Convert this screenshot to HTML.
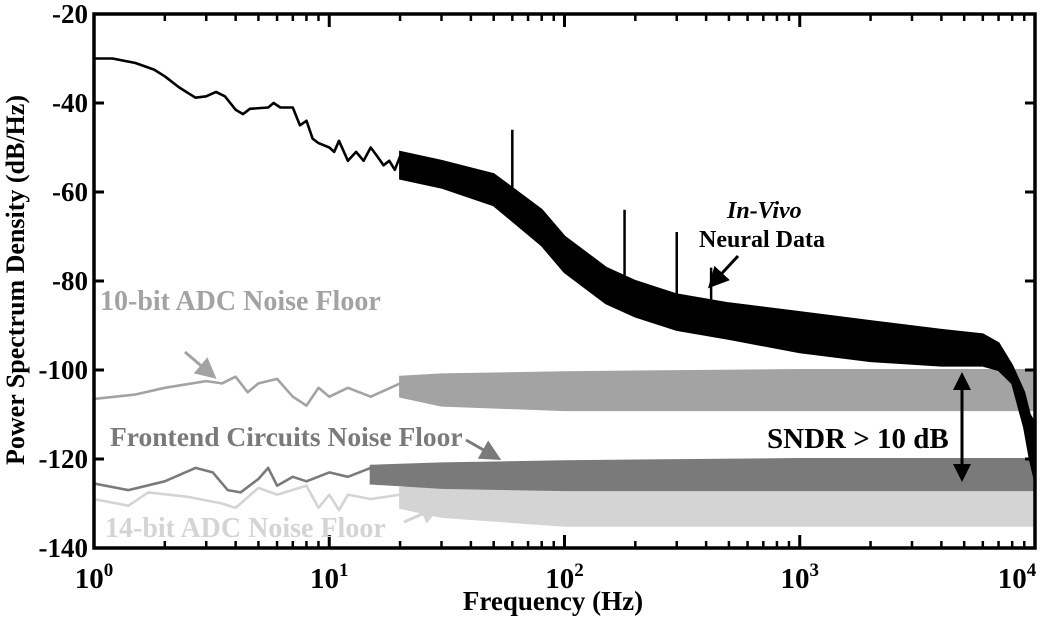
<!DOCTYPE html>
<html><head><meta charset="utf-8"><style>
body{margin:0;background:#fff}
svg text{font-family:"Liberation Serif",serif;font-weight:bold}
</style></head><body>
<svg id="c" width="1050" height="619" viewBox="0 0 1050 619" style="position:absolute;left:0;top:0">
<g id="plot"></g>
</svg>
<script>
// ---- data ----
const neuralFreqs=[1,1.2,1.5,1.8,2,2.3,2.7,3,3.3,3.6,4,4.3,4.6,5.5,5.8,6.2,7,7.5,8,8.5,9,10,10.5,11,12,13,14,15,16,17,18,19,20,22,25,28,30];
const neuralVals=[-30,-30,-31,-32.5,-34,-36.5,-38.8,-38.5,-37.5,-38.5,-41.5,-42.5,-41.3,-41,-40,-41,-41,-45,-44,-48,-49,-50,-51,-48.5,-53,-51,-53,-50,-52,-54,-53,-55,-52,-56,-54,-57,-55];
const neuralBandFreqs=[20,30,50,80,100,150,200,300,500,1000,2000,4000,6000,7000,8000,9000,9500,10000];
const neuralBandHi=[-51,-53,-56,-64,-70,-77,-80,-83,-85,-87,-89,-91,-92,-94,-99,-105,-110,-112];
const neuralBandLo=[-57,-59,-63,-72,-78,-85,-88,-91,-93,-96,-98,-99,-99,-100,-103,-113,-120,-125];
const spikeFreqs=[60,180,300,420];
const spikeVals=[-46,-64,-69,-77];

const adc10Freqs=[1,1.5,2,3,3.5,4,4.5,5,6,7,8,9,10,12,15,20,30];
const adc10Vals=[-106.5,-105.5,-104,-102.5,-103,-101.5,-105,-103,-102,-106,-108,-104,-106,-104,-106,-103,-104];
const adc10BandFreqs=[20,30,100,1000,10000];
const adc10BandHi=[-101.5,-101,-100.5,-100,-100];
const adc10BandLo=[-106,-108,-109,-109,-109];

const frontFreqs=[1,1.4,2,2.7,3.2,3.7,4.2,5,5.5,6,7,8,10,12,15,20];
const frontVals=[-125.5,-127,-125,-122,-123,-127,-127.5,-124.5,-122,-126,-124,-125,-123,-124,-122,-123];
const frontBandFreqs=[15,30,100,1000,10000];
const frontBandHi=[-121.5,-121,-120.5,-120,-120];
const frontBandLo=[-125.5,-126.5,-127,-127,-127];

const adc14Freqs=[1,1.4,1.7,2.5,3.5,4,5,6,8,9,10,11,12,15,20,30];
const adc14Vals=[-129,-130.5,-127.5,-128.5,-130,-131,-126.5,-128,-126,-131,-128,-131.5,-128,-129,-128,-127];
const adc14BandFreqs=[20,30,100,1000,10000];
const adc14BandHi=[-126.5,-126,-125,-125,-125];
const adc14BandLo=[-131,-133,-135,-135,-135];

const yTicks=[-20,-40,-60,-80,-100,-120,-140];
const xDecades=[0,1,2,3,4];

// ---- axes ----
const X0=94,X1=1035,Y0=14,Y1=548;
const xs=f=>X0+(Math.log10(f))*(X1-X0)/4;
const ys=v=>Y0+(-20-v)*(Y1-Y0)/120;
const NS='http://www.w3.org/2000/svg';
const g=document.getElementById('plot');
function mk(t,a,p){const e=document.createElementNS(NS,t);for(const k in a)e.setAttribute(k,a[k]);(p||g).appendChild(e);return e;}
function lineD(F,V){return F.map((f,i)=>(i?'L':'M')+xs(f).toFixed(1)+','+ys(V[i]).toFixed(1)).join('');}
function bandD(F,H,L){let d=F.map((f,i)=>(i?'L':'M')+xs(f).toFixed(1)+','+ys(H[i]).toFixed(1)).join('');
 for(let i=F.length-1;i>=0;i--)d+='L'+xs(F[i]).toFixed(1)+','+ys(L[i]).toFixed(1);return d+'Z';}
function bandAt(F,V,f){const lf=Math.log10(f);for(let i=1;i<F.length;i++){if(f<=F[i]){const a=Math.log10(F[i-1]),b=Math.log10(F[i]);return V[i-1]+(V[i]-V[i-1])*(lf-a)/(b-a);}}return V[V.length-1];}

function series(name,col,F,V,BF,BH,BL){
 let e=mk('path',{d:bandD(BF,BH,BL),fill:col,stroke:col,'stroke-width':2});
 
 
 e=mk('path',{d:lineD(F,V),fill:'none',stroke:col,'stroke-width':2.6,'stroke-linejoin':'round'});
 
 
}
series('adc10-noise-floor','#a3a3a3',adc10Freqs,adc10Vals,adc10BandFreqs,adc10BandHi,adc10BandLo);
series('adc14-noise-floor','#d4d4d4',adc14Freqs,adc14Vals,adc14BandFreqs,adc14BandHi,adc14BandLo);
series('frontend-noise-floor','#7a7a7a',frontFreqs,frontVals,frontBandFreqs,frontBandHi,frontBandLo);
series('neural-data','#000',neuralFreqs,neuralVals,neuralBandFreqs,neuralBandHi,neuralBandLo);
spikeFreqs.forEach((f,i)=>{
 const base=bandAt(neuralBandFreqs,neuralBandHi,f)-2;
 const e=mk('line',{x1:xs(f),x2:xs(f),y1:ys(spikeVals[i]),y2:ys(base),stroke:'#000','stroke-width':2.5});
 
 
});

// frame
let fr=mk('rect',{x:X0,y:Y0,width:X1-X0,height:Y1-Y0,fill:'none',stroke:'#000','stroke-width':3.5});


yTicks.forEach(v=>{
 const y=ys(v);
 mk('line',{x1:X0,x2:X0+10,y1:y,y2:y,stroke:'#000','stroke-width':3});
 mk('line',{x1:X1,x2:X1-10,y1:y,y2:y,stroke:'#000','stroke-width':3});
 const t=mk('text',{x:X0-6,y:y+9,'text-anchor':'end','font-size':27});
 t.textContent=String(v);
 
 
});
xDecades.forEach(d=>{
 const x=xs(Math.pow(10,d));
 if(d<4){for(let m=2;m<10;m++){const xm=xs(m*Math.pow(10,d));
  mk('line',{x1:xm,x2:xm,y1:Y1,y2:Y1-7,stroke:'#000','stroke-width':2.5});
  mk('line',{x1:xm,x2:xm,y1:Y0,y2:Y0+7,stroke:'#000','stroke-width':2.5});}}
 mk('line',{x1:x,x2:x,y1:Y1,y2:Y1-13,stroke:'#000','stroke-width':3});
 mk('line',{x1:x,x2:x,y1:Y0,y2:Y0+13,stroke:'#000','stroke-width':3});
 const t=mk('text',{x:(d==4?x-18:x),y:Y1+40,'text-anchor':'middle','font-size':29});
 t.innerHTML='10<tspan dy="-12" font-size="19">'+d+'</tspan>';
 
 
});
</script>
<svg width="1050" height="619" style="position:absolute;left:0;top:0">
<defs><marker id="m1" markerWidth="7" markerHeight="7" refX="5" refY="3.5" orient="auto"><path d="M0,0 L7,3.5 L0,7 z" fill="#000"/></marker>
<marker id="m2" markerWidth="7" markerHeight="7" refX="5" refY="3.5" orient="auto"><path d="M0,0 L7,3.5 L0,7 z" fill="#a3a3a3"/></marker>
<marker id="m3" markerWidth="7" markerHeight="7" refX="5" refY="3.5" orient="auto"><path d="M0,0 L7,3.5 L0,7 z" fill="#7a7a7a"/></marker>
<marker id="m4" markerWidth="7" markerHeight="7" refX="5" refY="3.5" orient="auto"><path d="M0,0 L7,3.5 L0,7 z" fill="#d4d4d4"/></marker>
<marker id="m5" markerWidth="6" markerHeight="6" refX="4" refY="3" orient="auto-start-reverse"><path d="M0,0 L6,3 L0,6 z" fill="#000"/></marker></defs>
<g style="font-family:'Liberation Serif',serif;font-weight:bold">
<text x="553" y="610" text-anchor="middle" font-size="27">Frequency (Hz)</text>
<text transform="translate(24,280) rotate(-90)" text-anchor="middle" font-size="26">Power Spectrum Density (dB/Hz)</text>
<text x="727" y="218" font-size="24" font-style="italic">In-Vivo</text>
<text x="699" y="247" font-size="24">Neural Data</text>
<line x1="738" y1="256" x2="712" y2="284" stroke="#000" stroke-width="3" marker-end="url(#m1)"/>
<text x="100" y="310" font-size="28" fill="#a3a3a3">10-bit ADC Noise Floor</text>
<line x1="185" y1="352" x2="212" y2="375" stroke="#a3a3a3" stroke-width="3" marker-end="url(#m2)"/>
<text x="110" y="446" font-size="27.5" fill="#7a7a7a">Frontend Circuits Noise Floor</text>
<line x1="466" y1="440" x2="496" y2="457" stroke="#7a7a7a" stroke-width="3" marker-end="url(#m3)"/>
<text x="105" y="537" font-size="28" fill="#d4d4d4">14-bit ADC Noise Floor</text>
<line x1="404" y1="522" x2="436" y2="508" stroke="#d4d4d4" stroke-width="3" marker-end="url(#m4)"/>
<text x="767" y="448" font-size="29">SNDR &gt; 10 dB</text>
<line x1="962" y1="378" x2="962" y2="476" stroke="#000" stroke-width="3" marker-start="url(#m5)" marker-end="url(#m5)"/>
</g></svg>
</body></html>
